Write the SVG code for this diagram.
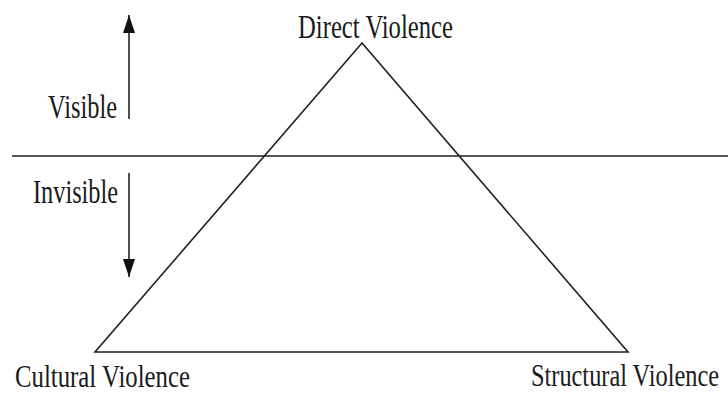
<svg xmlns="http://www.w3.org/2000/svg" width="728" height="394" viewBox="0 0 728 394">
<style>
text{font-family:"Liberation Serif","Times New Roman",serif;font-size:34px;fill:#1a1a1a}
.bt{font-size:32px}
.ln{stroke:#222;stroke-width:1.6;fill:none}
</style>
<defs>
<marker id="ah" markerWidth="18" markerHeight="12" refX="18" refY="6" orient="auto" markerUnits="userSpaceOnUse" viewBox="0 0 18 12">
<path d="M0,0 L18,6 L0,12 Z" fill="#111"/>
</marker>
</defs>
<rect width="728" height="394" fill="#fff"/>
<g id="connectors">
<line class="ln" x1="129" y1="119" x2="129" y2="15" marker-end="url(#ah)"/>
<line class="ln" x1="129" y1="173" x2="129" y2="277" marker-end="url(#ah)"/>
<line class="ln" x1="12" y1="156" x2="728" y2="156"/>
</g>
<g id="triangle">
<polygon class="ln" points="362,43 95,352 628,352"/>
</g>
<g id="direct"><text x="298" y="38" textLength="155" lengthAdjust="spacingAndGlyphs">Direct Violence</text></g>
<g id="visible"><text x="48" y="118" textLength="69" lengthAdjust="spacingAndGlyphs">Visible</text></g>
<g id="invisible"><text x="33" y="203" textLength="85" lengthAdjust="spacingAndGlyphs">Invisible</text></g>
<g id="cultural"><text class="bt" x="15" y="387" textLength="175" lengthAdjust="spacingAndGlyphs">Cultural Violence</text></g>
<g id="structural"><text class="bt" x="531" y="386" textLength="188" lengthAdjust="spacingAndGlyphs">Structural Violence</text></g>
</svg>
